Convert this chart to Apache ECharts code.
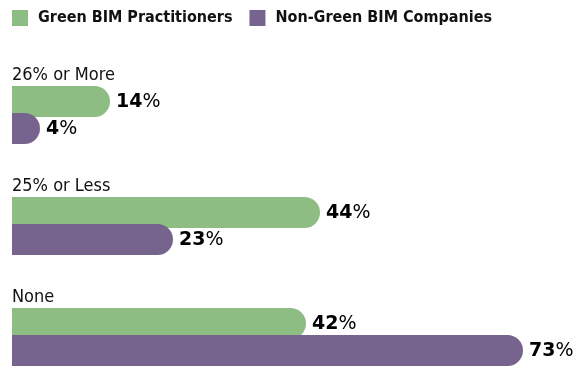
<!DOCTYPE html>
<html>
<head>
<meta charset="utf-8">
<script src="https://cdn.jsdelivr.net/npm/echarts@6/dist/echarts.min.js"></script>
<style>
  html, body { margin: 0; padding: 0; background: #fff; }
  #chart { width: 585px; height: 366px; }
</style>
</head>
<body>
<div id="chart"></div>
<script>
// Share of projects by category, two respondent groups
const categories = ['26% or More', '25% or Less', 'None'];
const seriesNames = ['Green BIM Practitioners', 'Non-Green BIM Companies'];
const greenValues = [14, 44, 42];
const nonGreenValues = [4, 23, 73];

const GREEN = '#8dbd82';
const PURPLE = '#77648e';
const CONDENSED = "'DejaVu Sans Condensed', 'Liberation Sans Narrow', sans-serif";

const valueLabel = {
  show: true,
  position: 'right',
  distance: 6,
  offset: [0, 1],
  formatter: p => '{n|' + p.value + '}{p|%}',
  rich: {
    n: { fontFamily: "'DejaVu Sans', sans-serif", fontWeight: 'bold', fontSize: 19, color: '#000' },
    p: { fontFamily: "'DejaVu Sans', sans-serif", fontWeight: 'normal', fontSize: 19, color: '#000' }
  }
};

const chart = echarts.init(document.getElementById('chart'), null, { renderer: 'canvas' });
chart.setOption({
  animation: false,
  legend: {
    left: 12,
    top: 10,
    padding: 0,
    itemWidth: 16,
    itemHeight: 16,
    itemGap: 17,
    icon: 'rect',
    textStyle: {
      fontFamily: CONDENSED, fontWeight: 'bold', fontSize: 16, color: '#111',
      padding: [2, 0, 0, 5]
    },
    data: seriesNames
  },
  // category ticks sit at the group centres; bars keep a fixed thickness
  grid: { left: 12, top: 115, width: 560, height: 222, containLabel: false },
  xAxis: {
    type: 'value',
    min: 0,
    max: 80,
    show: false
  },
  yAxis: {
    type: 'category',
    data: categories,
    inverse: true,
    boundaryGap: false,
    axisLine: { show: false },
    axisTick: { show: false },
    splitLine: { show: false },
    axisLabel: {
      inside: true,
      margin: 0,
      align: 'left',
      verticalAlign: 'bottom',
      padding: [0, 0, 31, 0],
      fontFamily: CONDENSED,
      fontSize: 18,
      color: '#111'
    }
  },
  series: [
    {
      name: seriesNames[0],
      type: 'bar',
      data: greenValues,
      barWidth: 31,
      barGap: '-13%',
      itemStyle: { color: GREEN, borderRadius: [0, 16, 16, 0] },
      label: valueLabel
    },
    {
      name: seriesNames[1],
      type: 'bar',
      data: nonGreenValues,
      barWidth: 31,
      itemStyle: { color: PURPLE, borderRadius: [0, 16, 16, 0] },
      label: valueLabel
    }
  ]
});
</script>
</body>
</html>
